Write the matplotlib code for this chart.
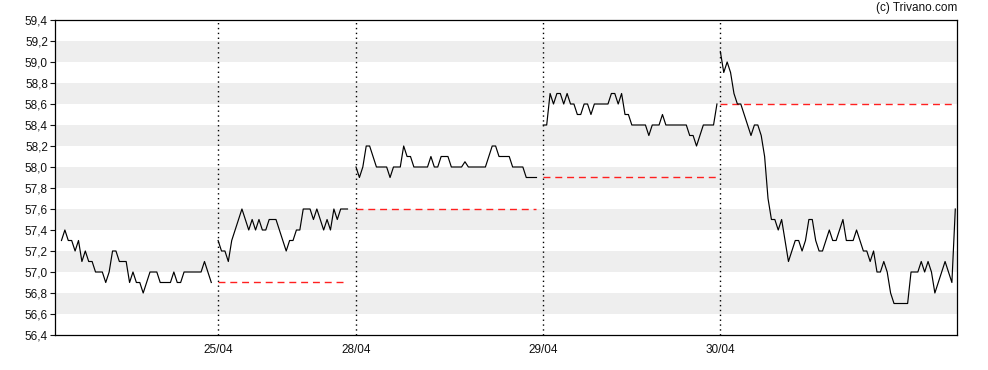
import numpy as np
import matplotlib
matplotlib.use("Agg")
import matplotlib.pyplot as plt
from matplotlib.ticker import FuncFormatter

plt.rcParams['font.family'] = ['Liberation Sans', 'DejaVu Sans']

# Intraday prices per trading day
day_labels = ['24/04', '25/04', '28/04', '29/04', '30/04']

prices_24 = [57.3, 57.4, 57.3, 57.3, 57.2, 57.3, 57.1, 57.2, 57.1, 57.1,
             57.0, 57.0, 57.0, 56.9, 57.0, 57.2, 57.2, 57.1, 57.1, 57.1,
             56.9, 57.0, 56.9, 56.9, 56.8, 56.9, 57.0, 57.0, 57.0, 56.9,
             56.9, 56.9, 56.9, 57.0, 56.9, 56.9, 57.0, 57.0, 57.0, 57.0,
             57.0, 57.0, 57.1, 57.0, 56.9]
prices_25 = [57.3, 57.2, 57.2, 57.1, 57.3, 57.4, 57.5, 57.6, 57.5, 57.4,
             57.5, 57.4, 57.5, 57.4, 57.4, 57.5, 57.5, 57.5, 57.4, 57.3,
             57.2, 57.3, 57.3, 57.4, 57.4, 57.6, 57.6, 57.6, 57.5, 57.6,
             57.5, 57.4, 57.5, 57.4, 57.6, 57.5, 57.6, 57.6, 57.6]
prices_28 = [58.0, 57.9, 58.0, 58.2, 58.2, 58.1, 58.0, 58.0, 58.0, 58.0,
             57.9, 58.0, 58.0, 58.0, 58.2, 58.1, 58.1, 58.0, 58.0, 58.0,
             58.0, 58.0, 58.1, 58.0, 58.0, 58.1, 58.1, 58.1, 58.0, 58.0,
             58.0, 58.0, 58.05, 58.0, 58.0, 58.0, 58.0, 58.0, 58.0, 58.1,
             58.2, 58.2, 58.1, 58.1, 58.1, 58.1, 58.0, 58.0, 58.0, 58.0,
             57.9, 57.9, 57.9, 57.9]
prices_29 = [58.4, 58.4, 58.7, 58.6, 58.7, 58.7, 58.6, 58.7, 58.6, 58.6,
             58.5, 58.5, 58.6, 58.6, 58.5, 58.6, 58.6, 58.6, 58.6, 58.6,
             58.7, 58.7, 58.6, 58.7, 58.5, 58.5, 58.4, 58.4, 58.4, 58.4,
             58.4, 58.3, 58.4, 58.4, 58.4, 58.5, 58.4, 58.4, 58.4, 58.4,
             58.4, 58.4, 58.4, 58.3, 58.3, 58.2, 58.3, 58.4, 58.4, 58.4,
             58.4, 58.6]
prices_30 = [59.1, 58.9, 59.0, 58.9, 58.7, 58.6, 58.6, 58.5, 58.4, 58.3,
             58.4, 58.4, 58.3, 58.1, 57.7, 57.5, 57.5, 57.4, 57.5, 57.3,
             57.1, 57.2, 57.3, 57.3, 57.2, 57.3, 57.5, 57.5, 57.3, 57.2,
             57.2, 57.3, 57.4, 57.3, 57.3, 57.4, 57.5, 57.3, 57.3, 57.3,
             57.4, 57.3, 57.2, 57.2, 57.1, 57.2, 57.0, 57.0, 57.1, 57.0,
             56.8, 56.7, 56.7, 56.7, 56.7, 56.7, 57.0, 57.0, 57.0, 57.1,
             57.0, 57.1, 57.0, 56.8, 56.9, 57.0, 57.1, 57.0, 56.9, 57.6]

days = [prices_24, prices_25, prices_28, prices_29, prices_30]
# slots left empty after each day's last quote
day_gaps = [2, 2.5, 2.0, 1.0]

fig = plt.figure(figsize=(9.88, 3.70), dpi=100)
ax = fig.add_axes([55 / 988, 1 - 335 / 370, 902 / 988, 315 / 370])

ymin, ymax = 56.4, 59.4
yticks = np.round(np.arange(ymin, ymax + 0.01, 0.2), 1)

# alternating grey bands
for lo in yticks[1::2][:-1]:
    ax.axhspan(lo, lo + 0.2, color='#eeeeee', lw=0, zorder=0)

x0 = 1.9
boundaries = []
prev_close = None
for i, p in enumerate(days):
    xs = x0 + np.arange(len(p))
    if i > 0:
        boundaries.append(x0)
        ax.plot([xs[0], xs[-1]], [prev_close, prev_close], color='#ff2020',
                lw=1.0, ls=(0, (5, 3.5)), zorder=2)
    ax.plot(xs, p, color='black', lw=0.85, zorder=3)
    prev_close = p[-1]
    if i < len(day_gaps):
        x0 = xs[-1] + day_gaps[i]
    last_x = xs[-1]

for b in boundaries:
    ax.axvline(b, color='black', lw=1.0, ls=(0, (1, 2.5)), zorder=4)

ax.set_xlim(0, last_x + 0.5)
ax.set_ylim(ymin, ymax)
ax.set_yticks(yticks)
ax.yaxis.set_major_formatter(FuncFormatter(lambda v, _: f'{v:.1f}'.replace('.', ',')))
ax.set_xticks(boundaries)
ax.set_xticklabels(day_labels[1:])
ax.tick_params(axis='y', length=3.6, width=0.8, pad=1.5, labelsize=8.5, colors='#111111')
ax.tick_params(axis='x', length=0, pad=6.5, labelsize=8.5, colors='#111111')
for s in ax.spines.values():
    s.set_linewidth(0.9)
    s.set_color('black')

fig.text(957 / 988, 1 - 8.5 / 370, '(c) Trivano.com', ha='right', va='center',
         fontsize=8.5, color='#111111')

fig.savefig('out.png', dpi=100)
